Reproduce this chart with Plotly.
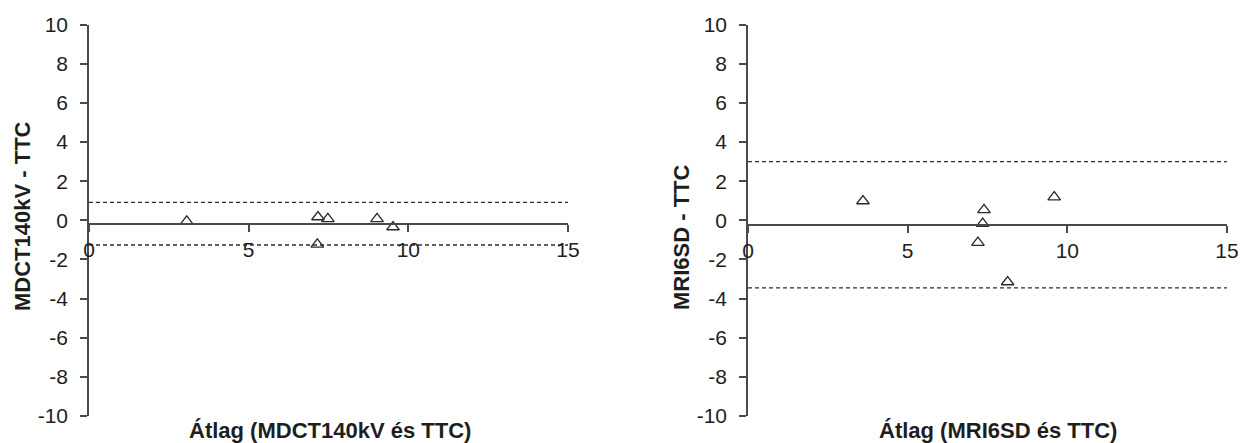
import plotly.graph_objects as go

# ---- data ----
left_x = [3.06, 7.17, 7.48, 9.02, 9.52, 7.15]
left_y = [-0.05, 0.17, 0.08, 0.08, -0.34, -1.23]
left_mean = -0.18
left_upper = 0.92
left_lower = -1.26

right_x = [3.60, 7.39, 7.35, 7.20, 8.13, 9.59]
right_y = [0.99, 0.54, -0.17, -1.14, -3.15, 1.19]
right_mean = -0.25
right_upper = 3.0
right_lower = -3.45

x_range = [0, 15]
y_range = [-10, 10]
x_ticks = [0, 5, 10, 15]
x_ticktext = ["0", "5", "10", "15"]
y_ticks = [10, 8, 6, 4, 2, 0, -2, -4, -6, -8, -10]
y_ticktext = ["10", "8", "6", "4", "2", "0", "-2", "-4", "-6", "-8", "-10"]

left_ytitle = "MDCT140kV - TTC"
left_xtitle = "Átlag (MDCT140kV és TTC)"
right_ytitle = "MRI6SD - TTC"
right_xtitle = "Átlag (MRI6SD és TTC)"

W, H = 1241, 443
FONT = "Liberation Sans, Arial, sans-serif"
AXC = "#4a4a4a"
TXT = "#1e1e1e"


def px(x):
    return x / W


def py(y):
    return 1 - y / H


xdom1 = [px(89), px(568)]
xdom2 = [px(748), px(1227)]
ydom = [py(416), py(24.7)]


def ypos(v):
    return ydom[0] + (v - y_range[0]) / (y_range[1] - y_range[0]) * (ydom[1] - ydom[0])


fig = go.Figure()

for xs, ys, mean, up, lo, xa, ya in [
    (left_x, left_y, left_mean, left_upper, left_lower, "x", "y"),
    (right_x, right_y, right_mean, right_upper, right_lower, "x2", "y2"),
]:
    for v in (up, lo):
        fig.add_trace(go.Scatter(x=x_range, y=[v, v], mode="lines",
                                 line=dict(color="#2e2e2e", width=1.4, dash="4px,3px"),
                                 xaxis=xa, yaxis=ya, hoverinfo="skip", showlegend=False))
    fig.add_trace(go.Scatter(x=x_range, y=[mean, mean], mode="lines",
                             line=dict(color=AXC, width=1.6),
                             xaxis=xa, yaxis=ya, hoverinfo="skip", showlegend=False))
    fig.add_trace(go.Scatter(x=xs, y=ys, mode="markers",
                             marker=dict(symbol="triangle-up-open", size=11,
                                         color="#2a2a2a", line=dict(width=1.3, color="#2a2a2a")),
                             xaxis=xa, yaxis=ya, showlegend=False))

common_x = dict(range=x_range, tickvals=x_ticks, ticktext=x_ticktext, showline=True,
                linecolor=AXC, linewidth=1.6,
                ticks="outside", ticklen=7, tickcolor=AXC, tickwidth=1.5,
                showgrid=False, zeroline=False, anchor="free", automargin=False,
                tickfont=dict(family=FONT, size=21, color=TXT))
common_y = dict(range=y_range, tickvals=y_ticks, ticktext=y_ticktext, showline=True,
                linecolor=AXC, linewidth=1.6,
                ticks="outside", ticklen=7, tickcolor=AXC, tickwidth=1.5,
                showgrid=False, zeroline=False, domain=ydom, ticklabelstandoff=8,
                automargin=False,
                tickfont=dict(family=FONT, size=21, color=TXT))

fig.update_layout(
    width=W, height=H,
    margin=dict(l=0, r=0, t=0, b=0, autoexpand=False),
    paper_bgcolor="white", plot_bgcolor="rgba(0,0,0,0)",
    xaxis=dict(common_x, domain=xdom1, position=ypos(left_mean)),
    yaxis=dict(common_y, anchor="x"),
    xaxis2=dict(common_x, domain=xdom2, position=ypos(right_mean)),
    yaxis2=dict(common_y, anchor="x2"),
)

title_font = dict(family=FONT, size=22, color=TXT, weight="bold")
fig.add_annotation(text=left_ytitle, x=px(22), y=py(216), xref="paper", yref="paper",
                   textangle=-90, showarrow=False, font=title_font, xanchor="center", yanchor="middle")
fig.add_annotation(text=right_ytitle, x=px(681), y=py(237), xref="paper", yref="paper",
                   textangle=-90, showarrow=False, font=title_font, xanchor="center", yanchor="middle")
fig.add_annotation(text=left_xtitle, x=px(330), y=py(430), xref="paper", yref="paper",
                   showarrow=False, font=title_font, xanchor="center", yanchor="middle")
fig.add_annotation(text=right_xtitle, x=px(998), y=py(430), xref="paper", yref="paper",
                   showarrow=False, font=title_font, xanchor="center", yanchor="middle")

fig.write_html("out.html", config={"displayModeBar": False},
               post_script="document.body.style.margin='0';document.body.style.overflow='hidden';")
